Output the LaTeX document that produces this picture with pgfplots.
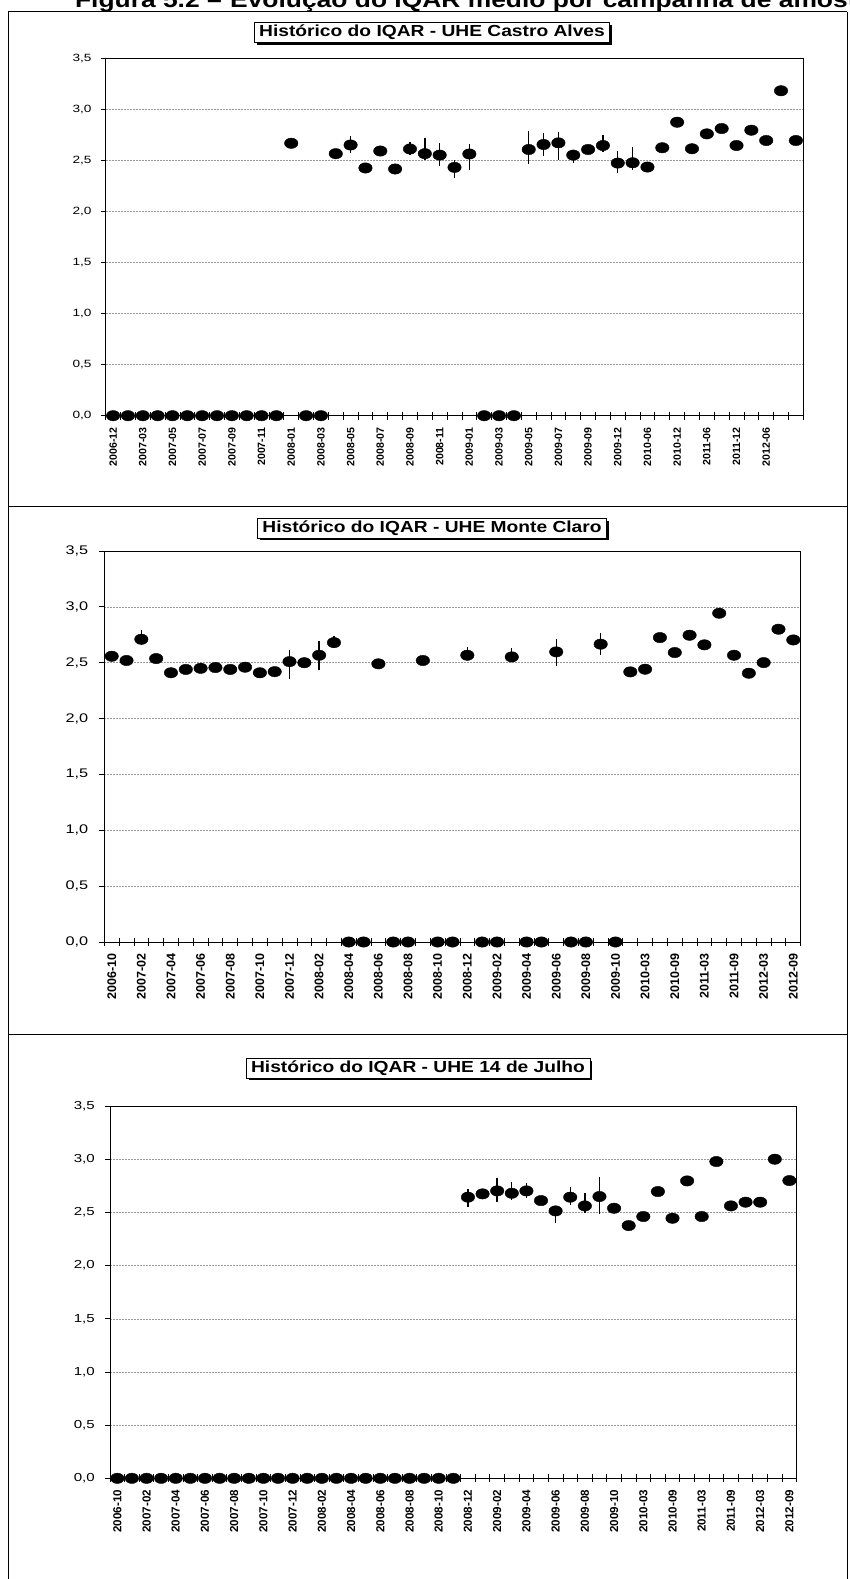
\documentclass[border=0pt]{standalone}
\usepackage{fontspec}
\setmainfont{Liberation Sans}
\newfontfamily\wide[FakeStretch=1.3]{Liberation Sans}
\newfontfamily\widett[FakeStretch=1.2]{Liberation Sans}
\usepackage{pgfplots}
\pgfplotsset{compat=1.18}
\usepackage{pgfplotstable}
\usetikzlibrary{shadows}

% x = category index, y = IQAR, ep/em = error bar plus/minus
\pgfplotstableread{
x y ep em
0 0 0 0
1 0 0 0
2 0 0 0
3 0 0 0
4 0 0 0
5 0 0 0
6 0 0 0
7 0 0 0
8 0 0 0
9 0 0 0
10 0 0 0
11 0 0 0
12 2.668 0 0
13 0 0 0
14 0 0 0
15 2.566 0 0
16 2.651 0.088 0.082
17 2.426 0 0
18 2.592 0.05 0.05
19 2.416 0 0
20 2.612 0.07 0.06
21 2.566 0.15 0.06
22 2.552 0.12 0.11
23 2.432 0.07 0.10
24 2.563 0.10 0.16
25 0 0 0
26 0 0 0
27 0 0 0
28 2.607 0.18 0.14
29 2.656 0.11 0.11
30 2.672 0.11 0.17
31 2.552 0.05 0.08
32 2.607 0.04 0.04
33 2.646 0.10 0.065
34 2.474 0.12 0.10
35 2.477 0.15 0.07
36 2.435 0 0
37 2.624 0 0
38 2.874 0 0
39 2.614 0 0
40 2.760 0 0
41 2.812 0 0
42 2.646 0 0
43 2.796 0 0
44 2.695 0 0
45 3.182 0 0
46 2.695 0 0
}\castro

\pgfplotstableread{
x y ep em
0 2.558 0 0
1 2.520 0 0
2 2.710 0.08 0.05
3 2.537 0 0
4 2.410 0 0
5 2.440 0 0
6 2.450 0 0
7 2.457 0 0
8 2.440 0 0
9 2.460 0.03 0
10 2.410 0 0
11 2.420 0 0
12 2.510 0.10 0.155
13 2.500 0 0
14 2.567 0.125 0.134
15 2.680 0.06 0.05
16 0 0 0
17 0 0 0
18 2.490 0 0
19 0 0 0
20 0 0 0
21 2.520 0 0
22 0 0 0
23 0 0 0
24 2.567 0.07 0.03
25 0 0 0
26 0 0 0
27 2.552 0.08 0.03
28 0 0 0
29 0 0 0
30 2.597 0.113 0.13
31 0 0 0
32 0 0 0
33 2.666 0.10 0.10
34 0 0 0
35 2.418 0 0
36 2.442 0 0
37 2.725 0 0
38 2.591 0 0
39 2.746 0 0
40 2.660 0 0
41 2.943 0 0
42 2.567 0 0
43 2.406 0 0
44 2.501 0 0
45 2.800 0 0
46 2.704 0 0
}\monte

\pgfplotstableread{
x y ep em
0 0 0 0
1 0 0 0
2 0 0 0
3 0 0 0
4 0 0 0
5 0 0 0
6 0 0 0
7 0 0 0
8 0 0 0
9 0 0 0
10 0 0 0
11 0 0 0
12 0 0 0
13 0 0 0
14 0 0 0
15 0 0 0
16 0 0 0
17 0 0 0
18 0 0 0
19 0 0 0
20 0 0 0
21 0 0 0
22 0 0 0
23 0 0 0
24 2.643 0.075 0.088
25 2.674 0 0
26 2.702 0.12 0.10
27 2.680 0.11 0.063
28 2.702 0.07 0.07
29 2.611 0 0
30 2.514 0.04 0.11
31 2.643 0.10 0.07
32 2.561 0.12 0.07
33 2.649 0.18 0.163
34 2.539 0 0
35 2.376 0 0
36 2.461 0 0
37 2.696 0 0
38 2.445 0 0
39 2.796 0 0
40 2.461 0 0
41 2.978 0 0
42 2.561 0 0
43 2.596 0 0
44 2.596 0 0
45 3.000 0 0
46 2.799 0 0
}\julho

\pgfplotsset{
  iqar/.style={
    scale only axis,
    clip=false,
    tick pos=left,
    xmin=-0.5, xmax=46.5,
    ymin=0, ymax=3.5,
    ytick={0,0.5,...,3.5},
    yticklabels={{0,0},{0,5},{1,0},{1,5},{2,0},{2,5},{3,0},{3,5}},
    ytick align=outside,
    major tick length=5pt,
    major y tick style={black, line width=0.8pt},
    major x tick style={draw=none},
    minor x tick style={black, line width=0.8pt},
    xtick align=center,
    minor tick length=8pt,
    minor xtick={-0.5,0.5,...,46.5},
    ymajorgrids,
    major grid style={dash pattern=on 2pt off 1pt, gray!80, line width=0.5pt},
    axis line style={black, line width=0.8pt},
  },
  yl/.style n args={2}{yticklabel style={font=\wide\fontsize{#1}{#1}\selectfont, inner sep=0pt, xshift=#2}},
  xl/.style={xticklabel style={yshift=-9pt, rotate=90, anchor=east, inner sep=0pt, font=\bfseries\fontsize{#1}{#1}\selectfont}},
  iqarplot/.style={
    black, only marks, mark=*, mark size=5.2pt,
    mark options={xscale=1.3, fill=black, draw=black},
    error bars/y dir=both, error bars/y explicit, error bars/error mark=none,
    error bars/error bar style={black, line width=1.4pt}
  }
}
\tikzset{
  ttl/.style={draw=black, line width=0.8pt, fill=white,
    drop shadow={shadow xshift=2.5pt, shadow yshift=-2.5pt, fill=black, opacity=1},
    font=\widett\bfseries\fontsize{16}{18}\selectfont, inner xsep=5pt, inner ysep=2.5pt}
}

\begin{document}
\begin{tikzpicture}
\useasboundingbox (0,0) rectangle (849pt,-1579pt);
\fill[white] (0,0) rectangle (849pt,-1579pt);

% partial caption at top (cut off in the source)
\node[anchor=base east, font=\widett\bfseries\fontsize{22}{24}\selectfont, inner sep=0pt] at (222pt,-8pt)
  {Figura 5.2 –};
\node[anchor=base west, font=\widett\bfseries\fontsize{22}{24}\selectfont, inner sep=0pt] at (230pt,-8pt)
  {Evolução do IQAR médio por campanha de amostragem};

% frames
\draw[line width=1pt] (8pt,-12pt) -- (847pt,-12pt);
\draw[line width=1pt] (8pt,-12pt) -- (8pt,-1585pt);
\draw[line width=1pt] (847pt,-12pt) -- (847pt,-1585pt);
\draw[line width=1pt] (8pt,-506pt) -- (847pt,-506pt);
\draw[line width=1pt] (8pt,-1034pt) -- (847pt,-1034pt);

% Panel 1
\begin{axis}[iqar, at={(105.7pt,-415.7pt)}, anchor=south west,
  width=697.6pt, height=357.4pt, yl={10.5}{-9pt}, xl=10.6,
  xtick={0,2,...,44},
  xticklabels={2006-12,2007-03,2007-05,2007-07,2007-09,2007-11,2008-01,2008-03,2008-05,2008-07,2008-09,2008-11,2009-01,2009-03,2009-05,2009-07,2009-09,2009-12,2010-06,2010-12,2011-06,2011-12,2012-06},
  ]
\addplot[iqarplot] table[x=x, y=y, y error plus=ep, y error minus=em] {\castro};
\end{axis}
\node[ttl] at (432pt,-32.5pt) {Histórico do IQAR - UHE Castro Alves};

% Panel 2
\begin{axis}[iqar, at={(104.3pt,-942pt)}, anchor=south west,
  width=696.4pt, height=391pt, yl={12.5}{-11pt}, xl=12.5,
  xtick={0,2,...,46},
  xticklabels={2006-10,2007-02,2007-04,2007-06,2007-08,2007-10,2007-12,2008-02,2008-04,2008-06,2008-08,2008-10,2008-12,2009-02,2009-04,2009-06,2009-08,2009-10,2010-03,2010-09,2011-03,2011-09,2012-03,2012-09},
  ]
\addplot[iqarplot] table[x=x, y=y, y error plus=ep, y error minus=em] {\monte};
\end{axis}
\node[ttl] at (432pt,-528pt) {Histórico do IQAR - UHE Monte Claro};

% Panel 3
\begin{axis}[iqar, at={(110pt,-1478.3pt)}, anchor=south west,
  width=686.7pt, height=372.3pt, yl={11.6}{-10pt}, xl=11.6,
  xtick={0,2,...,46},
  xticklabels={2006-10,2007-02,2007-04,2007-06,2007-08,2007-10,2007-12,2008-02,2008-04,2008-06,2008-08,2008-10,2008-12,2009-02,2009-04,2009-06,2009-08,2009-10,2010-03,2010-09,2011-03,2011-09,2012-03,2012-09},
  ]
\addplot[iqarplot] table[x=x, y=y, y error plus=ep, y error minus=em] {\julho};
\end{axis}
\node[ttl] at (418pt,-1068pt) {Histórico do IQAR - UHE 14 de Julho};
\end{tikzpicture}
\end{document}
